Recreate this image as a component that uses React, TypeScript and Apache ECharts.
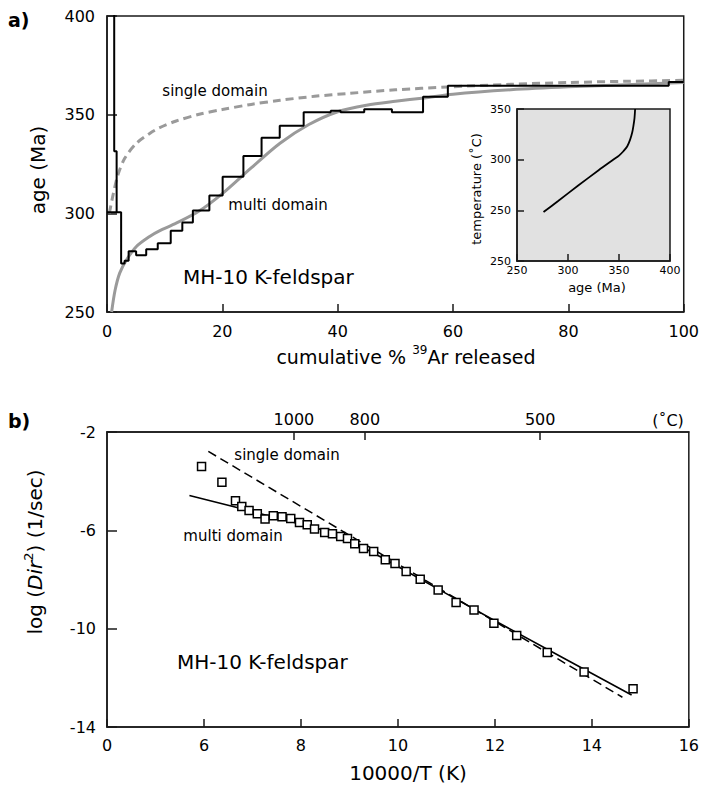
import React, { useEffect, useRef } from 'react';
import * as echarts from 'echarts';

// ---------- panel a) age spectrum ----------
const spectrumEdges = [0, 2.45, 3.05, 3.75, 5.05, 6.8, 8.8, 11.05, 13.06, 14.89, 17.75, 20.05, 23.65, 26.8, 29.95, 34.1, 38.8, 40.5, 44.6, 49.4, 54.8, 59.1, 97.4, 100];
const spectrumAges = [300.5, 274.6, 276.0, 280.8, 278.8, 281.8, 284.8, 291.2, 295.3, 301.4, 309.1, 318.6, 329.0, 338.3, 344.4, 351.2, 352.0, 351.2, 352.7, 351.2, 359.1, 364.6, 366.5];
const spikeX = [1.25, 1.25, 1.67, 1.67];
const spikeAge = [420, 331.4, 331.4, 300.5];

const singleDomainX = [0.4, 1.1, 1.9, 3.1, 5.1, 7.4, 9, 12, 16, 20, 25, 30, 36, 42, 50, 59, 70, 80, 90, 100];
const singleDomainAge = [300, 310, 319.5, 328, 335.5, 340.5, 343.2, 346.8, 350.2, 352.6, 355.2, 357.3, 359.3, 360.8, 362.6, 364, 365.4, 366.3, 366.9, 367.4];

const multiDomainX = [0.8, 1.4, 2.2, 3.4, 5.1, 7.4, 9, 12, 15.9, 20, 25, 30, 35, 40, 45, 50, 55, 60, 70, 80, 90, 100];
const multiDomainAge = [250, 261, 269.7, 276.5, 283.2, 288.3, 291, 295, 301, 310, 323, 335.5, 345, 351.5, 354.8, 356.8, 358.5, 360.4, 362.6, 364.1, 365.2, 366.3];

// inset: temperature history
const insetAge = [276, 290, 310, 330, 344.6, 350, 354.3, 358, 360.9, 363, 364.1, 365.2, 365.8];
const insetTemp = [248.3, 259, 274.5, 289.5, 300.1, 304, 308.3, 313, 319.8, 327, 333, 341, 350];
const insetYValues = [200, 250, 300, 350];
const insetYTickLabels = ['250', '250', '300', '350'];

// ---------- panel b) Arrhenius plot ----------
const arrX = [5.95, 6.37, 6.65, 6.78, 6.93, 7.10, 7.26, 7.43, 7.61, 7.79, 7.97, 8.13, 8.28, 8.49, 8.65, 8.82, 8.96, 9.11, 9.29, 9.50, 9.74, 9.94, 10.17, 10.46, 10.83, 11.20, 11.57, 11.98, 12.45, 13.08, 13.84, 14.85];
const arrLogD = [-3.40, -4.04, -4.80, -5.03, -5.19, -5.33, -5.54, -5.41, -5.45, -5.52, -5.68, -5.77, -5.95, -6.09, -6.14, -6.25, -6.33, -6.55, -6.74, -6.86, -7.20, -7.35, -7.67, -7.99, -8.43, -8.94, -9.24, -9.78, -10.28, -10.97, -11.76, -12.44];
const multiFitX = [5.7, 6.6, 7.7, 8.3, 8.7, 9.2, 10.0, 12.0, 14.82];
const multiFitY = [-4.58, -5.03, -5.6, -5.9, -6.14, -6.62, -7.47, -9.68, -12.70];
const singleFitX = [6.09, 14.63];
const singleFitY = [-2.79, -12.79];
const bottomXValues = [4, 6, 8, 10, 12, 14, 16];
const bottomXTickLabels = ['0', '6', '8', '10', '12', '14', '16'];
const tempTicksC = [1000, 800, 500];

const FONT = 'DejaVu Sans';
const AX = '#1a1a1a';

const zip = (xs: number[], ys: number[]) => xs.map((x, i) => [x, ys[i]]);

function buildOption() {
  const spectrumData: number[][] = [];
  spectrumAges.forEach((a, i) => {
    spectrumData.push([spectrumEdges[i], a], [spectrumEdges[i + 1], a]);
  });
  const tempTickPos = tempTicksC.map((c) => 10000 / (c + 273.15));

  const axisLine = { show: true, lineStyle: { color: AX, width: 1.5 } };
  const tick = (len: number) => ({ show: true, inside: true, length: len, lineStyle: { color: AX, width: 1.5 } });
  const lbl = (size: number, margin: number) => ({ fontSize: size, fontFamily: FONT, color: '#000', margin, showMinLabel: true, showMaxLabel: true });

  const txt = (text: string, x: number, y: number, size: number, extra: any = {}) => ({
    type: 'text',
    x,
    y,
    rotation: extra.rotation || 0,
    style: {
      text,
      fontSize: size,
      fontFamily: FONT,
      fontWeight: extra.bold ? 'bold' : 'normal',
      fill: '#000',
      align: extra.align || 'center',
      verticalAlign: 'middle',
      rich: extra.rich,
    },
    z: 10,
  });

  return {
    animation: false,
    backgroundColor: '#fff',
    textStyle: { fontFamily: FONT, color: '#000' },
    grid: [
      { left: 107, top: 16, width: 582, height: 296, show: true, borderColor: AX, borderWidth: 1.5, backgroundColor: 'transparent' },
      { left: 517, top: 109, width: 153, height: 152, show: true, borderColor: AX, borderWidth: 1.5, backgroundColor: '#e1e1e1', z: 5 },
      { left: 107, top: 432, width: 582, height: 295, show: true, borderColor: AX, borderWidth: 1.5, backgroundColor: 'transparent' },
    ],
    xAxis: [
      {
        gridIndex: 0, type: 'value', min: 0, max: 100, interval: 20,
        axisLine, axisTick: tick(8), axisLabel: lbl(16, 11), splitLine: { show: false },
      },
      {
        gridIndex: 1, type: 'value', min: 250, max: 400, interval: 50, z: 6,
        axisLine, axisTick: tick(7), axisLabel: lbl(11, 4), splitLine: { show: false },
      },
      {
        gridIndex: 2, type: 'value', min: 4, max: 16, interval: 2,
        axisLine, axisTick: tick(8), splitLine: { show: false },
        axisLabel: {
          ...lbl(16, 10),
          formatter: (v: number) => bottomXTickLabels[bottomXValues.indexOf(v)] ?? '',
        },
      },
      {
        gridIndex: 2, type: 'value', position: 'top', min: 4, max: 16,
        axisLine,
        axisTick: { ...tick(8), customValues: tempTickPos },
        splitLine: { show: false },
        axisLabel: {
          ...lbl(16, 5),
          customValues: tempTickPos,
          formatter: (v: number) => {
            let best = 0;
            tempTickPos.forEach((p, i) => { if (Math.abs(p - v) < Math.abs(tempTickPos[best] - v)) best = i; });
            return String(tempTicksC[best]);
          },
        },
      },
    ],
    yAxis: [
      {
        gridIndex: 0, type: 'value', min: 250, max: 400, interval: 50,
        axisLine, axisTick: tick(10), axisLabel: lbl(16, 12), splitLine: { show: false },
      },
      {
        gridIndex: 1, type: 'value', min: 200, max: 350, interval: 50, z: 6,
        axisLine, axisTick: tick(7), splitLine: { show: false },
        axisLabel: {
          ...lbl(11, 6),
          formatter: (v: number) => insetYTickLabels[insetYValues.indexOf(v)] ?? '',
        },
      },
      {
        gridIndex: 2, type: 'value', min: -14, max: -2, interval: 4,
        axisLine, axisTick: tick(10), axisLabel: lbl(16, 11), splitLine: { show: false },
      },
    ],
    series: [
      {
        type: 'line', xAxisIndex: 0, yAxisIndex: 0, data: zip(singleDomainX, singleDomainAge),
        smooth: 0.3, symbol: 'none', lineStyle: { color: '#9a9a9a', width: 3, type: [8, 5] }, z: 2,
      },
      {
        type: 'line', xAxisIndex: 0, yAxisIndex: 0, data: zip(multiDomainX, multiDomainAge),
        smooth: 0.3, symbol: 'none', lineStyle: { color: '#9a9a9a', width: 3 }, z: 2,
      },
      {
        type: 'line', xAxisIndex: 0, yAxisIndex: 0, data: zip(spikeX, spikeAge),
        symbol: 'none', lineStyle: { color: '#000', width: 2 }, z: 3,
      },
      {
        type: 'line', xAxisIndex: 0, yAxisIndex: 0, data: spectrumData,
        symbol: 'none', lineStyle: { color: '#000', width: 2 }, z: 3,
      },
      {
        type: 'line', xAxisIndex: 1, yAxisIndex: 1, data: zip(insetAge, insetTemp),
        smooth: 0.3, symbol: 'none', lineStyle: { color: '#000', width: 1.8 }, z: 7,
      },
      {
        type: 'line', xAxisIndex: 2, yAxisIndex: 2, data: zip(singleFitX, singleFitY),
        symbol: 'none', lineStyle: { color: '#000', width: 1.5, type: [9, 5] }, z: 2,
      },
      {
        type: 'line', xAxisIndex: 2, yAxisIndex: 2, data: zip(multiFitX, multiFitY),
        smooth: 0.2, symbol: 'none', lineStyle: { color: '#000', width: 1.6 }, z: 2,
      },
      {
        type: 'scatter', xAxisIndex: 2, yAxisIndex: 2, data: zip(arrX, arrLogD),
        symbol: 'rect', symbolSize: 8,
        itemStyle: { color: '#fff', borderColor: '#000', borderWidth: 1.5, opacity: 1 }, z: 4,
      },
    ],
    graphic: [
      txt('a)', 8, 20, 19, { bold: true, align: 'left' }),
      txt('b)', 8, 421, 19, { bold: true, align: 'left' }),
      txt('age (Ma)', 38, 170, 20, { rotation: Math.PI / 2 }),
      txt('{a|cumulative % }{s|39}{a|Ar released}', 406, 357, 19, {
        rich: {
          a: { fontSize: 19, fontFamily: FONT, fill: '#000', lineHeight: 26 },
          s: { fontSize: 12, fontFamily: FONT, fill: '#000', verticalAlign: 'top', lineHeight: 14 },
        },
      }),
      txt('single domain', 215, 91, 15),
      txt('multi domain', 278, 205, 15),
      txt('MH-10 K-feldspar', 183, 277, 20, { align: 'left' }),
      txt('temperature (˚C)', 476, 189, 13, { rotation: Math.PI / 2 }),
      txt('age (Ma)', 597, 287, 13),
      txt('(˚C)', 668, 420, 16),
      txt('single domain', 287, 455, 15),
      txt('multi domain', 233, 536, 15),
      txt('MH-10 K-feldspar', 177, 662, 20, { align: 'left' }),
      txt('{a|log (}{i|Dir}{s|2}{a|) (1/sec)}', 35, 552, 20, {
        rotation: Math.PI / 2,
        rich: {
          a: { fontSize: 20, fontFamily: FONT, fill: '#000', lineHeight: 26 },
          i: { fontSize: 20, fontFamily: FONT, fontStyle: 'italic', fill: '#000', lineHeight: 26 },
          s: { fontSize: 13, fontFamily: FONT, fill: '#000', verticalAlign: 'top', lineHeight: 14 },
        },
      }),
      txt('10000/T (K)', 408, 773, 20),
    ],
  };
}

export default function App() {
  const ref = useRef<HTMLDivElement>(null);
  useEffect(() => {
    if (!ref.current) return;
    const chart = echarts.init(ref.current, undefined, { renderer: 'svg' });
    chart.setOption(buildOption() as any);
    return () => chart.dispose();
  }, []);
  return (
    <div
      ref={ref}
      style={{ position: 'absolute', left: 0, top: 0, width: 702, height: 786, background: '#fff' }}
    />
  );
}
